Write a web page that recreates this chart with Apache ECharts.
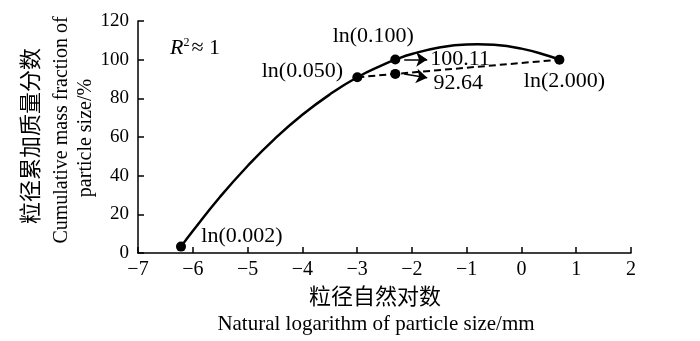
<!DOCTYPE html>
<html>
<head>
<meta charset="utf-8">
<script src="https://cdn.jsdelivr.net/npm/echarts@6/dist/echarts.min.js"></script>
<style>
  html, body { margin: 0; padding: 0; background: #fff; }
  #chart { width: 700px; height: 341px; }
</style>
</head>
<body>
<div id="chart"></div>
<script>
// fitted curve
const curveX = [-6.215, -6, -5.5, -5, -4.5, -4, -3.5, -2.996, -2.5, -2.303, -2, -1.5, -1, -0.805, -0.5, 0, 0.5, 0.693];
const curveY = [3.3, 11.4, 29.1, 45.0, 59.2, 71.5, 82.0, 90.9, 97.7, 100.0, 102.9, 106.3, 107.9, 108.0, 107.7, 105.7, 101.9, 100.0];

// marked points
const pointX = [-6.215, -2.996, -2.303, -2.303, 0.693];
const pointY = [3.3, 90.9, 100.11, 92.64, 100];
const pointNames = ['ln(0.002)', 'ln(0.050)', 'ln(0.100)', '92.64', 'ln(2.000)'];

// dashed path
const dashX = [-2.996, -2.303, 0.693];
const dashY = [90.9, 92.64, 100];

// arrows to the values
const arrowText = ['100.11', ''];
const arrowFrom = [[-2.14, 100.11], [-2.14, 92.64]];
const arrowTo = [[-1.72, 100.11], [-1.72, 90.6]];

const xTicks = [-7, 2, 1];
const yTicks = [0, 120, 20];

const serif = '"Liberation Serif", "DejaVu Serif", serif';
const cjk = '"Noto Sans CJK SC", sans-serif';

// label offsets from each point (pixels)
const labelOffsets = [[61, -10], [-55, -6], [-22, -23], [63, 9], [5, 22]];

const chart = echarts.init(document.getElementById('chart'));

const axisCommon = {
  axisLine: { show: true, onZero: false, lineStyle: { color: '#000', width: 1.5 } },
  axisTick: { show: true, inside: true, length: 6, lineStyle: { color: '#000', width: 1.5 } },
  splitLine: { show: false },
  axisLabel: {
    color: '#000', fontFamily: serif, fontSize: 19,
    formatter: v => String(v).replace('-', '\u2212')
  }
};

const option = {
  animation: false,
  backgroundColor: '#fff',
  grid: { left: 138, right: 69, top: 21, bottom: 88 },
  xAxis: Object.assign({}, axisCommon, {
    type: 'value', min: xTicks[0], max: xTicks[1], interval: xTicks[2],
    axisLabel: Object.assign({}, axisCommon.axisLabel, { margin: 7, fontSize: 20 })
  }),
  yAxis: Object.assign({}, axisCommon, {
    type: 'value', min: yTicks[0], max: yTicks[1], interval: yTicks[2],
    axisLabel: Object.assign({}, axisCommon.axisLabel, { margin: 9 })
  }),
  series: [
    {
      type: 'line',
      data: curveX.map((x, i) => [x, curveY[i]]),
      smooth: true,
      showSymbol: false,
      lineStyle: { color: '#000', width: 2.5 },
      z: 2
    },
    {
      type: 'line',
      data: dashX.map((x, i) => [x, dashY[i]]),
      showSymbol: false,
      lineStyle: { color: '#000', width: 2, type: [7, 4] },
      z: 2
    },
    {
      type: 'scatter',
      data: pointX.map((x, i) => ({
        value: [x, pointY[i]],
        label: {
          show: true,
          formatter: pointNames[i],
          position: 'inside',
          offset: labelOffsets[i],
          color: '#000',
          fontFamily: serif,
          fontSize: 22
        }
      })),
      symbolSize: 10,
      itemStyle: { color: '#000', opacity: 1 },
      markLine: {
        silent: true,
        symbol: ['none', 'arrow'],
        symbolSize: 11,
        lineStyle: { color: '#000', width: 1.5, type: 'solid', opacity: 1 },
        label: {
          show: true, position: 'end', distance: 3,
          color: '#000', fontFamily: serif, fontSize: 22
        },
        data: arrowText.map((t, i) => [
          { coord: arrowFrom[i], label: { show: t !== '', formatter: t } },
          { coord: arrowTo[i] }
        ])
      },
      z: 3
    }
  ],
  graphic: [
    {
      type: 'text', x: 170, y: 48,
      style: {
        text: '{i|R}{s|2}{n|\u2248 1}',
        verticalAlign: 'middle',
        rich: {
          i: { fontFamily: serif, fontStyle: 'italic', fontSize: 22, fill: '#000' },
          s: { fontFamily: serif, fontSize: 12, fill: '#000', verticalAlign: 'top', padding: [0, 2, 10, 0] },
          n: { fontFamily: serif, fontSize: 22, fill: '#000' }
        }
      }
    },
    // y-axis name
    {
      type: 'text', x: 30, y: 136, rotation: Math.PI / 2,
      style: { text: '粒径累加质量分数', font: '22px ' + cjk, fill: '#000', align: 'center', verticalAlign: 'middle' }
    },
    {
      type: 'text', x: 62, y: 130, rotation: Math.PI / 2,
      style: { text: 'Cumulative mass fraction of', font: '20px ' + serif, fill: '#000', align: 'center', verticalAlign: 'middle' }
    },
    {
      type: 'text', x: 86, y: 138, rotation: Math.PI / 2,
      style: { text: 'particle size/%', font: '20px ' + serif, fill: '#000', align: 'center', verticalAlign: 'middle' }
    },
    // x-axis name
    {
      type: 'text', x: 375, y: 296,
      style: { text: '粒径自然对数', font: '22px ' + cjk, fill: '#000', align: 'center', verticalAlign: 'middle' }
    },
    {
      type: 'text', x: 376, y: 324,
      style: { text: 'Natural logarithm of particle size/mm', font: '21px ' + serif, fill: '#000', align: 'center', verticalAlign: 'middle' }
    }
  ]
};

chart.setOption(option);
</script>
</body>
</html>
